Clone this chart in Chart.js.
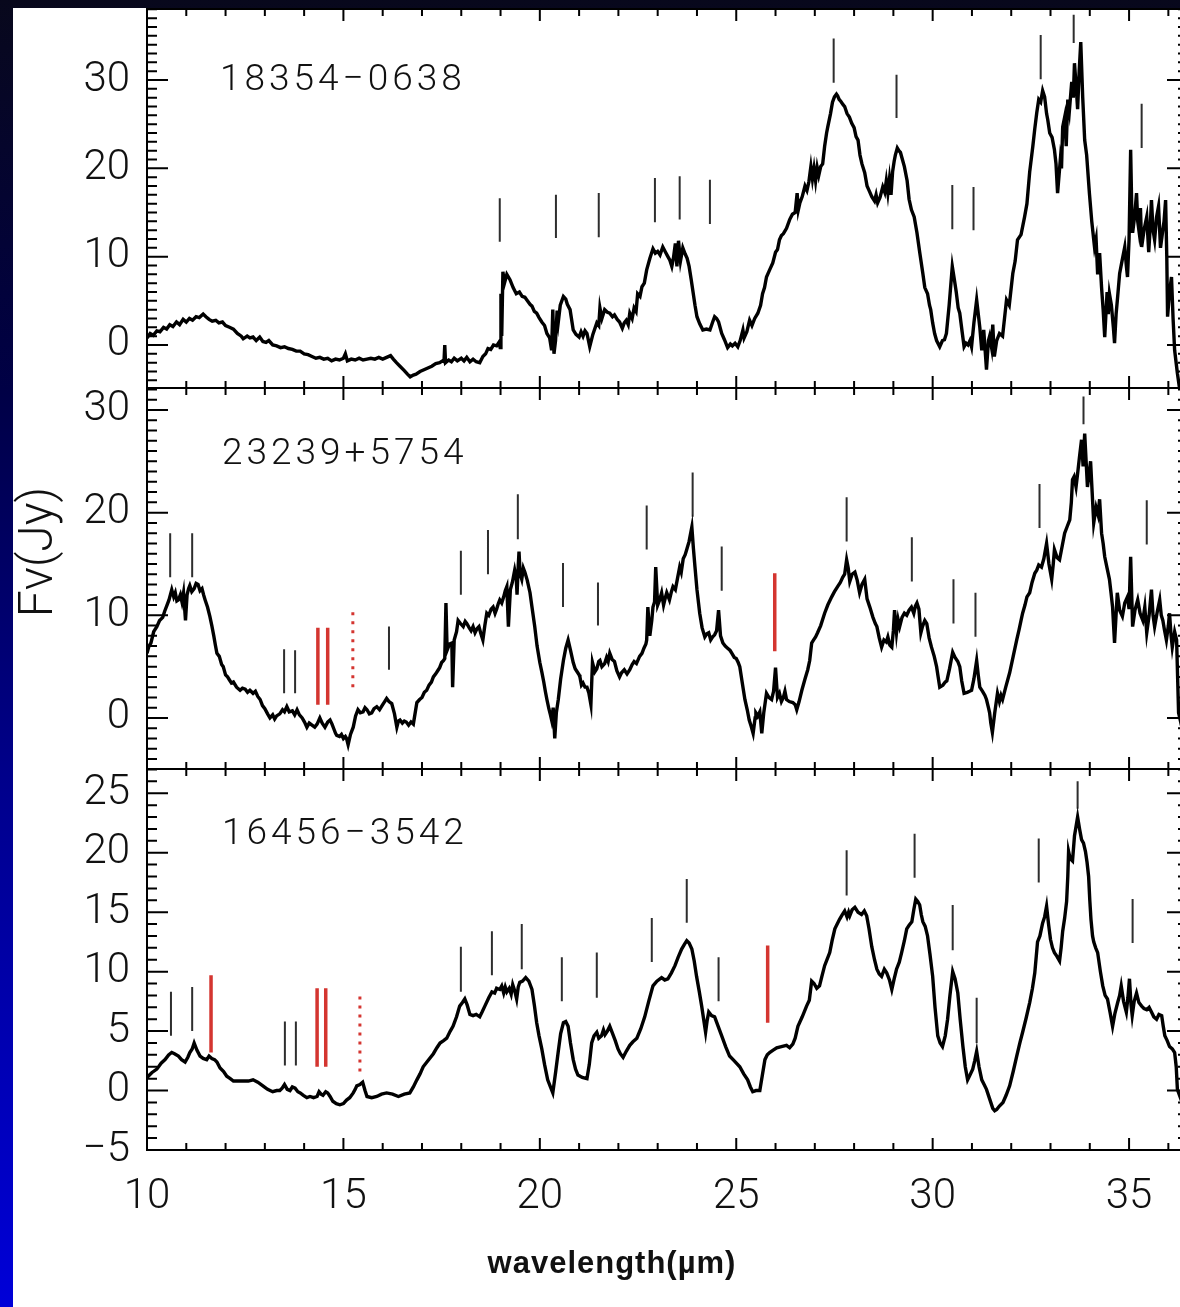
<!DOCTYPE html>
<html><head><meta charset="utf-8">
<script src="https://cdn.jsdelivr.net/npm/chart.js@4/dist/chart.umd.min.js"></script>
<style>
html,body{margin:0;padding:0;width:1180px;height:1307px;overflow:hidden;}
body{position:relative;background:linear-gradient(to bottom,#08081c 0%,#000046 30%,#00008c 60%,#0000d8 100%);}
#paper{position:absolute;left:13px;top:8px;right:0;bottom:0;background:#fff;}
canvas{position:absolute;left:0;}
</style></head><body>
<div id="paper"></div>
<canvas id="c1" width="1200" height="400" style="top:0px"></canvas>
<canvas id="c2" width="1200" height="400" style="top:380px"></canvas>
<canvas id="c3" width="1200" height="547" style="top:760px"></canvas>
<script>
// ---------------- DATA ----------------
const panelNames = ["18354\u22120638", "23239+5754", "16456\u22123542"];
const xTicks = [10, 15, 20, 25, 30, 35];
const yTicks1 = [0, 10, 20, 30];
const yTicks2 = [0, 10, 20, 30];
const yTicks3 = [-5, 0, 5, 10, 15, 20, 25];
const xTitle = "wavelength(\u00b5m)";
const yTitle = "F\u03bd(Jy)";

// Spectrum 1 : 18354-0638  [wavelength (um), flux (Jy)]
const spec1 = [[10.00,0.8],[10.08,1.3],[10.16,1.1],[10.25,1.6],[10.33,1.5],[10.42,2.0],[10.50,1.8],[10.58,2.3],[10.66,2.1],[10.75,2.6],[10.83,2.3],[10.92,2.9],[11.00,2.6],[11.08,3.0],[11.16,2.8],[11.25,3.2],[11.33,3.1],[11.43,3.5],[11.50,3.2],[11.58,2.9],[11.66,2.7],[11.75,2.8],[11.83,2.5],[11.92,2.6],[12.00,2.2],[12.10,2.0],[12.20,1.8],[12.30,1.3],[12.40,1.0],[12.45,0.7],[12.55,1.0],[12.62,0.8],[12.70,0.9],[12.78,0.5],[12.87,0.9],[12.95,0.4],[13.03,0.3],[13.10,0.5],[13.20,0.0],[13.30,-0.1],[13.40,-0.3],[13.50,-0.2],[13.60,-0.4],[13.70,-0.5],[13.80,-0.7],[13.90,-0.7],[14.00,-1.0],[14.10,-1.1],[14.20,-1.3],[14.30,-1.5],[14.40,-1.4],[14.50,-1.6],[14.60,-1.5],[14.70,-1.8],[14.80,-1.6],[14.90,-1.7],[15.00,-1.5],[15.05,-1.0],[15.10,-1.8],[15.20,-1.6],[15.30,-1.7],[15.40,-1.5],[15.50,-1.7],[15.60,-1.6],[15.70,-1.5],[15.80,-1.6],[15.90,-1.4],[16.00,-1.6],[16.10,-1.4],[16.20,-1.2],[16.27,-1.6],[16.35,-2.0],[16.44,-2.4],[16.55,-2.9],[16.63,-3.3],[16.70,-3.6],[16.78,-3.4],[16.85,-3.3],[16.95,-3.0],[17.05,-2.8],[17.15,-2.6],[17.25,-2.4],[17.35,-2.1],[17.45,-2.0],[17.52,-1.8],[17.56,-1.9],[17.58,0.0],[17.60,-2.0],[17.68,-1.7],[17.75,-1.9],[17.82,-1.5],[17.90,-1.8],[18.00,-1.5],[18.07,-1.8],[18.14,-1.4],[18.22,-1.9],[18.30,-1.6],[18.38,-1.9],[18.47,-2.0],[18.55,-1.3],[18.62,-1.0],[18.68,-0.4],[18.75,-0.5],[18.82,0.0],[18.90,-0.1],[18.96,0.3],[18.99,-0.3],[19.01,5.8],[19.03,1.0],[19.06,8.3],[19.10,7.0],[19.16,8.0],[19.24,7.4],[19.32,6.5],[19.40,5.8],[19.48,6.0],[19.55,5.5],[19.62,5.4],[19.67,5.1],[19.75,4.6],[19.80,4.4],[19.86,3.8],[19.92,3.6],[19.98,3.1],[20.05,2.6],[20.12,2.2],[20.18,1.3],[20.25,0.8],[20.30,-0.6],[20.33,4.0],[20.36,-1.0],[20.40,0.5],[20.44,3.9],[20.47,2.6],[20.52,4.5],[20.60,5.5],[20.66,5.2],[20.70,4.6],[20.77,4.0],[20.85,1.7],[20.92,1.2],[21.00,0.9],[21.05,1.5],[21.10,1.0],[21.15,1.6],[21.20,1.3],[21.27,-0.2],[21.35,1.2],[21.45,2.5],[21.50,2.2],[21.53,4.2],[21.58,3.0],[21.65,4.0],[21.72,3.7],[21.78,3.6],[21.85,3.2],[21.90,3.4],[21.97,2.9],[22.03,2.6],[22.10,1.9],[22.15,2.5],[22.20,2.8],[22.25,2.3],[22.29,3.6],[22.35,3.0],[22.40,4.2],[22.45,3.8],[22.49,5.8],[22.55,5.5],[22.60,6.6],[22.66,7.0],[22.72,8.5],[22.80,9.8],[22.88,10.9],[22.94,10.4],[23.00,10.6],[23.06,10.2],[23.13,11.1],[23.20,10.5],[23.26,10.0],[23.31,9.6],[23.36,8.9],[23.40,9.8],[23.45,11.5],[23.49,8.9],[23.53,11.8],[23.58,9.5],[23.64,11.0],[23.70,10.3],[23.75,9.8],[23.80,8.9],[23.85,7.5],[23.90,6.0],[23.95,4.5],[24.00,3.2],[24.07,2.4],[24.15,1.7],[24.24,1.8],[24.33,1.7],[24.40,2.6],[24.45,3.2],[24.50,3.0],[24.55,2.6],[24.63,1.3],[24.70,0.6],[24.78,-0.3],[24.85,0.1],[24.90,-0.1],[24.97,0.2],[25.04,-0.2],[25.10,0.5],[25.17,1.7],[25.20,0.8],[25.27,1.5],[25.34,2.8],[25.40,2.2],[25.47,3.0],[25.55,3.6],[25.62,4.5],[25.67,5.8],[25.72,6.5],[25.77,7.7],[25.85,8.5],[25.93,9.3],[26.00,10.5],[26.05,10.8],[26.10,11.9],[26.15,12.4],[26.20,12.6],[26.28,13.2],[26.36,14.2],[26.43,14.8],[26.50,15.0],[26.55,17.2],[26.58,15.3],[26.62,16.1],[26.68,16.8],[26.75,18.0],[26.80,17.5],[26.85,18.5],[26.90,20.2],[26.94,18.8],[26.98,20.0],[27.02,18.6],[27.06,20.1],[27.10,19.2],[27.15,20.2],[27.20,20.5],[27.25,22.5],[27.30,24.0],[27.33,24.7],[27.40,26.2],[27.45,27.5],[27.50,28.1],[27.55,28.4],[27.58,28.2],[27.62,27.8],[27.66,27.6],[27.72,27.2],[27.76,27.0],[27.82,26.2],[27.88,25.8],[27.94,25.1],[28.00,24.6],[28.05,23.6],[28.10,23.2],[28.15,21.5],[28.20,20.5],[28.27,19.5],[28.33,18.0],[28.38,17.5],[28.45,16.8],[28.52,16.3],[28.56,17.0],[28.60,16.1],[28.66,16.7],[28.73,17.9],[28.78,17.3],[28.82,18.6],[28.86,17.2],[28.90,18.8],[28.94,17.0],[28.98,19.6],[29.02,20.8],[29.05,21.5],[29.10,22.3],[29.14,22.0],[29.18,21.8],[29.23,21.0],[29.28,20.2],[29.35,18.6],[29.40,16.5],[29.46,15.3],[29.53,14.5],[29.60,12.7],[29.67,10.5],[29.75,8.1],[29.80,6.5],[29.87,5.8],[29.92,4.5],[29.95,4.0],[30.00,2.5],[30.05,1.3],[30.10,0.5],[30.18,-0.2],[30.25,0.5],[30.30,0.6],[30.35,1.3],[30.42,4.5],[30.50,8.9],[30.56,7.2],[30.60,6.0],[30.65,4.2],[30.69,3.6],[30.75,1.5],[30.80,-0.2],[30.85,0.2],[30.90,0.0],[30.95,0.5],[30.99,-0.2],[31.05,2.5],[31.12,5.1],[31.20,2.0],[31.25,-0.6],[31.30,1.7],[31.37,-2.8],[31.42,0.5],[31.45,1.0],[31.50,-0.3],[31.53,2.3],[31.57,-1.3],[31.63,0.5],[31.70,1.3],[31.78,1.0],[31.88,5.1],[31.95,4.5],[32.04,8.1],[32.10,9.5],[32.16,11.9],[32.25,12.5],[32.34,14.5],[32.40,16.0],[32.47,19.6],[32.55,22.5],[32.60,24.5],[32.65,26.3],[32.70,27.8],[32.75,27.5],[32.80,28.8],[32.85,28.1],[32.90,26.2],[32.93,25.5],[32.98,24.0],[33.04,23.5],[33.10,22.1],[33.14,20.5],[33.18,17.2],[33.25,21.0],[33.28,20.0],[33.31,24.7],[33.36,25.8],[33.40,22.5],[33.44,27.8],[33.48,26.5],[33.54,29.8],[33.58,28.0],[33.61,31.9],[33.65,29.5],[33.69,26.7],[33.73,31.0],[33.77,34.3],[33.82,28.0],[33.87,23.2],[33.92,21.5],[33.99,17.2],[34.05,14.0],[34.12,11.1],[34.16,12.0],[34.20,8.0],[34.25,10.4],[34.30,6.5],[34.34,4.0],[34.38,0.9],[34.44,6.0],[34.47,3.5],[34.50,5.8],[34.55,4.5],[34.60,2.0],[34.63,0.2],[34.67,3.5],[34.70,5.0],[34.76,8.1],[34.82,9.5],[34.89,11.1],[34.93,9.0],[34.96,7.7],[35.00,12.0],[35.04,22.1],[35.07,15.0],[35.09,12.7],[35.14,14.5],[35.19,17.2],[35.22,14.0],[35.25,13.0],[35.29,15.5],[35.32,11.1],[35.38,13.0],[35.45,14.5],[35.50,10.5],[35.54,13.5],[35.57,16.4],[35.61,13.0],[35.65,11.9],[35.70,14.5],[35.75,15.7],[35.80,11.0],[35.85,12.7],[35.89,14.0],[35.93,16.4],[35.96,10.0],[35.98,3.2],[36.03,6.0],[36.08,7.7],[36.12,3.0],[36.16,-0.6],[36.23,-3.2],[36.32,-6.0]];

// Spectrum 2 : 23239+5754
const spec2 = [[10.00,6.3],[10.05,7.0],[10.10,7.3],[10.17,8.4],[10.25,8.9],[10.32,9.5],[10.40,9.8],[10.45,10.4],[10.50,10.9],[10.56,11.5],[10.63,12.5],[10.68,11.8],[10.72,12.2],[10.76,11.4],[10.80,11.5],[10.85,12.0],[10.89,11.3],[10.93,12.2],[10.98,9.5],[11.02,12.0],[11.06,12.6],[11.09,12.9],[11.14,12.3],[11.20,12.6],[11.25,13.1],[11.30,13.0],[11.35,12.4],[11.40,12.6],[11.44,12.0],[11.48,11.5],[11.54,10.8],[11.60,9.9],[11.65,9.0],[11.70,8.0],[11.74,7.1],[11.78,6.3],[11.84,6.0],[11.90,5.2],[11.94,5.0],[12.00,4.2],[12.05,4.0],[12.10,3.7],[12.15,3.4],[12.20,3.5],[12.28,3.0],[12.37,2.7],[12.43,2.9],[12.50,2.8],[12.56,2.5],[12.62,2.7],[12.70,2.4],[12.76,2.6],[12.82,2.1],[12.88,1.8],[12.94,1.2],[13.00,0.9],[13.07,0.4],[13.13,0.0],[13.20,0.3],[13.25,-0.1],[13.30,0.2],[13.38,0.4],[13.45,0.8],[13.50,0.6],[13.56,1.1],[13.62,0.6],[13.70,0.7],[13.76,0.3],[13.82,0.8],[13.88,0.3],[13.95,0.0],[14.01,-0.4],[14.07,-0.9],[14.13,-0.5],[14.20,-0.7],[14.27,-0.9],[14.33,-0.6],[14.40,0.0],[14.46,-0.5],[14.53,-0.9],[14.60,-0.4],[14.66,-0.2],[14.71,-0.6],[14.75,-1.0],[14.80,-1.5],[14.83,-1.7],[14.90,-1.8],[14.95,-1.6],[15.00,-2.0],[15.05,-1.8],[15.08,-2.0],[15.12,-2.6],[15.18,-1.6],[15.25,-0.9],[15.31,0.2],[15.37,0.8],[15.43,0.5],[15.50,0.6],[15.55,1.0],[15.60,0.8],[15.66,0.4],[15.72,0.5],[15.78,0.9],[15.85,1.1],[15.92,0.8],[16.00,1.3],[16.05,1.6],[16.10,1.9],[16.16,1.6],[16.23,1.4],[16.30,0.4],[16.36,-0.9],[16.40,-0.3],[16.44,-0.2],[16.50,-0.5],[16.55,-0.3],[16.60,-0.4],[16.66,-0.7],[16.72,-0.4],[16.78,-0.6],[16.87,1.5],[16.94,1.8],[17.00,2.0],[17.06,2.5],[17.12,2.7],[17.18,3.2],[17.24,3.5],[17.29,4.0],[17.35,4.3],[17.40,4.6],[17.45,4.9],[17.50,5.4],[17.55,5.6],[17.58,5.8],[17.61,11.2],[17.64,6.6],[17.70,7.2],[17.76,7.3],[17.78,3.0],[17.82,7.6],[17.88,8.4],[17.92,9.5],[17.98,9.2],[18.05,8.9],[18.10,9.4],[18.14,9.2],[18.20,8.8],[18.25,8.5],[18.30,8.9],[18.35,8.3],[18.40,8.7],[18.45,8.9],[18.50,8.2],[18.55,7.6],[18.60,9.0],[18.65,10.2],[18.70,10.0],[18.76,10.6],[18.81,10.8],[18.86,10.2],[18.90,10.6],[18.94,11.1],[18.98,11.5],[19.03,11.2],[19.08,11.8],[19.12,12.4],[19.16,12.8],[19.20,8.9],[19.25,12.5],[19.30,13.2],[19.36,14.4],[19.40,13.6],[19.42,12.0],[19.45,14.8],[19.47,16.2],[19.50,14.0],[19.54,13.5],[19.58,14.6],[19.62,14.2],[19.68,13.4],[19.75,12.2],[19.80,10.8],[19.87,8.9],[19.93,7.0],[20.00,5.4],[20.05,4.5],[20.10,3.5],[20.14,2.6],[20.18,1.8],[20.23,0.9],[20.27,0.3],[20.30,-0.2],[20.34,1.0],[20.38,-2.0],[20.42,0.5],[20.47,1.8],[20.53,3.8],[20.60,5.6],[20.66,6.8],[20.72,7.6],[20.78,6.6],[20.85,5.4],[20.90,4.8],[20.95,4.5],[21.00,4.2],[21.02,4.0],[21.06,3.2],[21.10,3.4],[21.15,3.0],[21.20,3.0],[21.25,2.4],[21.30,1.3],[21.34,5.4],[21.40,4.5],[21.45,4.8],[21.50,5.5],[21.53,5.6],[21.58,5.0],[21.65,5.3],[21.70,5.9],[21.74,5.5],[21.78,6.3],[21.84,5.7],[21.90,5.5],[21.96,4.6],[22.03,4.0],[22.08,4.4],[22.15,4.7],[22.22,4.3],[22.29,4.7],[22.35,5.2],[22.40,5.5],[22.46,5.3],[22.54,6.0],[22.60,6.3],[22.65,6.8],[22.70,7.2],[22.72,7.6],[22.75,10.8],[22.80,8.0],[22.85,9.5],[22.88,10.8],[22.92,11.3],[22.95,14.7],[23.00,11.0],[23.05,11.5],[23.10,12.2],[23.15,11.0],[23.20,11.8],[23.23,12.2],[23.30,11.5],[23.35,12.3],[23.39,12.8],[23.45,12.5],[23.50,13.5],[23.56,14.7],[23.60,14.2],[23.65,15.5],[23.70,15.9],[23.74,16.4],[23.80,17.2],[23.87,18.6],[23.91,16.5],[23.95,14.7],[24.00,12.5],[24.07,10.2],[24.13,8.8],[24.20,7.9],[24.25,8.2],[24.30,8.3],[24.35,7.6],[24.40,7.9],[24.45,8.1],[24.50,8.5],[24.55,10.5],[24.60,8.0],[24.66,7.3],[24.72,7.0],[24.78,6.8],[24.84,6.6],[24.89,6.3],[24.95,5.9],[25.00,5.8],[25.05,5.4],[25.09,5.0],[25.15,3.5],[25.22,1.8],[25.28,0.8],[25.33,-0.2],[25.38,-0.8],[25.43,-1.5],[25.48,0.0],[25.50,0.5],[25.55,0.2],[25.60,0.6],[25.65,-1.5],[25.70,0.5],[25.77,2.4],[25.83,2.0],[25.90,1.8],[25.95,2.6],[26.00,4.9],[26.05,2.0],[26.10,2.4],[26.15,1.6],[26.20,2.0],[26.24,2.6],[26.28,1.8],[26.35,1.6],[26.44,1.5],[26.50,1.3],[26.54,0.8],[26.60,1.6],[26.67,2.7],[26.75,3.8],[26.82,4.7],[26.87,5.6],[26.92,7.3],[26.97,7.6],[27.02,7.9],[27.07,8.3],[27.15,9.0],[27.25,10.2],[27.33,11.0],[27.43,11.8],[27.50,12.3],[27.58,12.8],[27.65,13.2],[27.71,13.7],[27.76,14.0],[27.81,15.4],[27.85,14.6],[27.89,13.3],[27.95,14.0],[28.02,14.2],[28.08,13.4],[28.14,12.2],[28.20,13.0],[28.27,13.5],[28.33,11.6],[28.40,10.8],[28.48,9.8],[28.54,9.2],[28.58,8.9],[28.64,7.8],[28.70,6.9],[28.76,7.6],[28.82,7.4],[28.86,7.9],[28.91,7.1],[28.96,6.9],[29.00,8.5],[29.03,10.5],[29.08,8.3],[29.12,9.6],[29.16,8.9],[29.22,9.8],[29.28,10.2],[29.34,10.0],[29.40,10.5],[29.46,10.8],[29.52,10.2],[29.56,10.9],[29.60,11.2],[29.65,10.6],[29.70,8.3],[29.74,8.9],[29.80,9.5],[29.85,9.2],[29.91,7.8],[29.97,6.9],[30.04,6.0],[30.10,5.0],[30.14,4.0],[30.18,3.0],[30.26,3.2],[30.32,3.5],[30.36,3.6],[30.43,4.8],[30.51,6.4],[30.57,5.9],[30.64,5.5],[30.69,5.0],[30.74,3.6],[30.80,2.4],[30.88,2.5],[30.94,2.6],[30.99,2.7],[31.05,3.8],[31.12,5.6],[31.16,4.2],[31.20,3.0],[31.27,2.6],[31.33,2.2],[31.37,1.8],[31.42,1.0],[31.45,0.5],[31.48,-0.5],[31.52,-1.4],[31.58,0.5],[31.65,2.4],[31.70,1.6],[31.74,2.2],[31.78,1.8],[31.86,3.0],[31.96,4.4],[32.05,6.0],[32.14,7.6],[32.20,8.6],[32.25,9.5],[32.29,10.2],[32.35,11.0],[32.40,11.8],[32.47,12.2],[32.53,13.2],[32.60,14.1],[32.65,14.4],[32.70,14.9],[32.77,14.7],[32.83,15.5],[32.90,17.0],[32.96,15.0],[33.03,13.5],[33.07,15.0],[33.10,16.4],[33.17,15.6],[33.23,15.4],[33.30,16.8],[33.36,18.0],[33.42,18.6],[33.49,19.3],[33.53,21.0],[33.56,23.2],[33.60,23.5],[33.65,22.5],[33.69,23.8],[33.74,25.5],[33.79,27.1],[33.83,24.5],[33.87,27.7],[33.94,22.5],[34.02,25.0],[34.06,22.0],[34.10,19.0],[34.16,20.5],[34.21,19.8],[34.25,21.3],[34.30,18.0],[34.34,17.0],[34.38,15.7],[34.44,14.6],[34.50,13.5],[34.54,12.2],[34.58,10.8],[34.63,7.3],[34.70,12.2],[34.76,10.5],[34.83,9.9],[34.89,11.2],[34.96,11.8],[35.00,10.6],[35.04,15.7],[35.09,8.9],[35.15,10.5],[35.22,11.5],[35.28,10.2],[35.35,9.5],[35.40,10.8],[35.45,8.3],[35.51,10.0],[35.57,12.5],[35.61,10.0],[35.65,8.9],[35.72,10.4],[35.78,11.5],[35.82,10.0],[35.86,9.5],[35.90,8.6],[35.95,7.6],[36.00,9.0],[36.03,10.2],[36.07,8.0],[36.10,6.9],[36.16,8.4],[36.21,7.6],[36.26,0.5],[36.35,-1.0]];

// Spectrum 3 : 16456-3542
const spec3 = [[10.00,1.1],[10.12,1.5],[10.25,1.8],[10.36,2.3],[10.46,2.6],[10.55,3.0],[10.63,3.2],[10.70,3.1],[10.80,2.9],[10.88,2.6],[10.97,2.4],[11.04,2.8],[11.09,3.2],[11.15,3.5],[11.20,4.0],[11.27,3.4],[11.35,2.9],[11.43,2.7],[11.52,2.6],[11.58,2.9],[11.65,2.7],[11.72,2.6],[11.78,2.4],[11.86,1.9],[11.95,1.6],[12.03,1.2],[12.12,1.0],[12.20,0.8],[12.32,0.8],[12.45,0.8],[12.58,0.8],[12.70,0.9],[12.82,0.7],[12.95,0.4],[13.07,0.1],[13.20,-0.1],[13.30,0.0],[13.38,0.0],[13.44,0.2],[13.50,0.5],[13.57,0.1],[13.64,0.0],[13.70,0.3],[13.77,0.2],[13.84,-0.1],[13.90,-0.2],[13.98,-0.4],[14.07,-0.6],[14.15,-0.5],[14.24,-0.6],[14.33,-0.5],[14.38,-0.1],[14.43,-0.3],[14.48,-0.4],[14.55,-0.1],[14.60,-0.2],[14.66,-0.5],[14.73,-0.9],[14.82,-1.1],[14.91,-1.2],[15.00,-1.1],[15.08,-0.8],[15.16,-0.6],[15.25,-0.2],[15.30,0.1],[15.34,0.4],[15.42,0.5],[15.49,0.7],[15.55,0.0],[15.60,-0.5],[15.72,-0.6],[15.85,-0.5],[15.97,-0.3],[16.10,-0.2],[16.25,-0.3],[16.40,-0.5],[16.55,-0.3],[16.69,-0.2],[16.78,0.3],[16.87,0.9],[16.95,1.4],[17.03,2.0],[17.15,2.5],[17.29,3.1],[17.38,3.6],[17.46,4.0],[17.55,4.2],[17.63,4.4],[17.72,5.0],[17.79,5.4],[17.88,6.2],[17.96,7.1],[18.03,7.4],[18.09,7.7],[18.15,7.2],[18.22,6.4],[18.30,6.3],[18.38,6.4],[18.47,6.2],[18.53,6.6],[18.60,7.1],[18.70,7.8],[18.78,8.3],[18.85,8.2],[18.90,8.6],[18.98,8.5],[19.03,8.8],[19.08,8.2],[19.12,8.7],[19.16,8.3],[19.22,8.6],[19.27,8.1],[19.31,8.9],[19.36,8.4],[19.41,7.7],[19.45,8.7],[19.49,9.1],[19.56,9.2],[19.64,9.5],[19.72,9.2],[19.80,8.5],[19.86,7.2],[19.92,5.7],[19.98,4.6],[20.05,3.5],[20.12,2.2],[20.20,0.9],[20.27,0.3],[20.33,-0.2],[20.40,1.5],[20.47,3.3],[20.53,4.8],[20.60,5.7],[20.66,5.8],[20.72,5.4],[20.78,4.0],[20.85,2.6],[20.91,1.8],[20.97,1.3],[21.08,1.1],[21.20,1.0],[21.26,2.2],[21.32,4.0],[21.38,4.6],[21.45,4.9],[21.50,4.4],[21.57,4.6],[21.62,5.1],[21.66,4.7],[21.72,5.0],[21.78,5.4],[21.85,4.8],[21.92,4.2],[21.99,3.5],[22.05,3.1],[22.12,2.8],[22.20,3.3],[22.29,3.8],[22.37,4.1],[22.47,4.4],[22.57,5.2],[22.67,6.2],[22.78,7.6],[22.88,8.8],[22.98,9.2],[23.10,9.5],[23.18,9.3],[23.26,9.4],[23.35,9.9],[23.44,10.5],[23.52,11.2],[23.61,11.9],[23.68,12.3],[23.74,12.6],[23.80,12.4],[23.87,11.9],[23.93,10.9],[23.99,9.6],[24.06,8.3],[24.12,7.1],[24.17,6.0],[24.22,4.9],[24.26,5.9],[24.30,6.6],[24.37,6.3],[24.45,6.2],[24.54,5.4],[24.63,4.6],[24.73,3.7],[24.83,2.9],[24.95,2.5],[25.09,2.0],[25.19,1.4],[25.29,0.9],[25.36,0.3],[25.42,-0.1],[25.50,0.0],[25.60,0.0],[25.66,1.2],[25.73,2.6],[25.79,3.0],[25.85,3.2],[25.94,3.4],[26.03,3.6],[26.15,3.7],[26.28,3.8],[26.36,3.6],[26.44,3.9],[26.50,4.4],[26.57,5.4],[26.68,6.2],[26.79,7.1],[26.86,7.6],[26.92,9.2],[26.98,9.0],[27.05,8.6],[27.12,8.8],[27.18,9.6],[27.25,10.5],[27.31,11.0],[27.38,11.6],[27.44,12.6],[27.51,13.6],[27.57,14.0],[27.63,14.4],[27.70,14.8],[27.76,15.1],[27.82,14.6],[27.86,15.0],[27.89,14.7],[27.95,15.2],[28.02,15.4],[28.10,15.0],[28.19,14.8],[28.26,15.1],[28.32,14.7],[28.38,13.6],[28.45,12.1],[28.52,11.0],[28.58,10.2],[28.64,9.8],[28.70,9.6],[28.77,10.2],[28.83,9.9],[28.90,9.3],[28.96,8.5],[29.02,9.4],[29.08,10.2],[29.15,10.8],[29.21,11.6],[29.28,12.6],[29.34,13.6],[29.40,13.9],[29.47,14.2],[29.52,15.2],[29.57,16.1],[29.62,15.9],[29.67,15.6],[29.71,14.8],[29.75,14.2],[29.81,13.8],[29.87,13.0],[29.93,11.5],[30.00,9.6],[30.06,7.0],[30.13,4.6],[30.19,4.0],[30.25,3.7],[30.32,4.6],[30.38,6.0],[30.44,8.0],[30.51,10.0],[30.57,9.4],[30.64,8.2],[30.70,6.0],[30.77,3.7],[30.83,2.0],[30.89,0.9],[30.95,1.3],[31.02,1.8],[31.07,2.5],[31.12,3.3],[31.18,2.0],[31.25,0.9],[31.31,0.5],[31.37,0.1],[31.45,-0.7],[31.53,-1.5],[31.58,-1.7],[31.63,-1.6],[31.70,-1.3],[31.79,-1.0],[31.87,-0.4],[31.96,0.4],[32.05,1.6],[32.14,2.9],[32.22,4.0],[32.29,4.9],[32.38,6.1],[32.47,7.4],[32.54,8.6],[32.60,9.9],[32.67,12.5],[32.73,13.0],[32.80,14.1],[32.85,14.6],[32.90,15.5],[32.95,14.0],[33.00,12.7],[33.05,12.0],[33.10,11.6],[33.16,11.3],[33.23,10.9],[33.27,12.0],[33.31,13.4],[33.36,14.5],[33.41,15.9],[33.44,18.0],[33.46,20.1],[33.50,19.5],[33.56,19.3],[33.61,21.4],[33.65,22.2],[33.69,23.0],[33.74,22.0],[33.79,21.1],[33.84,20.8],[33.89,20.1],[33.93,19.2],[33.97,18.0],[34.00,16.0],[34.03,14.4],[34.07,13.0],[34.10,12.5],[34.15,12.0],[34.20,11.6],[34.27,10.0],[34.33,8.8],[34.39,8.0],[34.45,7.7],[34.52,6.5],[34.58,5.4],[34.64,6.5],[34.71,7.4],[34.76,8.0],[34.80,8.8],[34.86,7.5],[34.93,6.6],[34.97,7.8],[35.01,9.4],[35.05,7.2],[35.08,6.3],[35.13,7.5],[35.19,8.2],[35.25,7.4],[35.32,7.1],[35.38,6.9],[35.45,6.8],[35.51,7.0],[35.57,6.6],[35.63,6.2],[35.70,6.0],[35.76,6.4],[35.83,6.3],[35.87,5.4],[35.91,4.6],[35.97,4.2],[36.03,3.7],[36.10,3.5],[36.16,3.2],[36.20,2.0],[36.23,0.1],[36.35,-1.0]];

// Feature markers (wavelength, lower and upper flux of each mark)
const mk1Wl = [18.98,20.41,21.50,22.93,23.56,24.33,27.48,29.08,30.50,31.04,32.75,33.59,35.32];
const mk1Lo = [11.7,12.1,12.2,13.9,14.2,13.7,29.7,25.7,13.1,13.0,30.1,34.2,22.3];
const mk1Hi = [16.6,17.0,17.2,18.9,19.1,18.7,34.7,30.6,18.1,17.9,35.1,37.4,27.3];

const mk2Wl = [10.59,11.15,13.49,13.77,16.16,17.99,18.68,19.44,20.59,21.48,22.72,23.89,24.63,27.81,29.47,30.53,31.09,32.72,33.84,35.45];
const mk2Lo = [13.7,13.7,2.4,2.4,4.7,12.0,14.0,17.4,10.8,9.0,16.4,19.6,12.4,17.2,13.3,9.2,7.9,18.5,28.6,16.9];
const mk2Hi = [18.0,18.0,6.7,6.6,8.9,16.3,18.3,21.8,15.1,13.2,20.7,23.9,16.7,21.5,17.6,13.5,12.2,22.8,31.3,21.2];
const red2Wl = [14.35,14.60,25.98];
const red2Lo = [1.3,1.3,6.5];
const red2Hi = [8.8,8.8,14.1];
const dot2Wl = [15.24];
const dot2Lo = [3.0];
const dot2Hi = [10.5];

const mk3Wl = [10.61,11.15,13.51,13.79,17.99,18.78,19.54,20.56,21.45,22.85,23.74,24.55,27.81,29.54,30.51,31.12,32.70,33.69,35.09];
const mk3Lo = [4.6,5.0,2.1,2.1,8.3,9.7,10.2,7.5,7.8,10.8,14.1,7.5,16.4,17.9,11.8,4.0,17.5,23.7,12.4];
const mk3Hi = [8.3,8.7,5.8,5.8,12.1,13.4,14.0,11.2,11.6,14.5,17.8,11.2,20.2,21.6,15.6,7.8,21.2,26.0,16.1];
const red3Wl = [11.63,14.33,14.55,25.80];
const red3Lo = [3.2,2.0,2.0,5.7];
const red3Hi = [9.7,8.6,8.6,12.2];
const dot3Wl = [15.42];
const dot3Lo = [1.6];
const dot3Hi = [8.3];

// ---------------- RENDERING ----------------
const XMIN = 10, XMAX = 36.5;
const LIGHT = "'Roboto','Lato','Open Sans','DejaVu Sans',sans-serif";
const minus = v => String(v).replace('-', '\u2212');

function specPts(spec){ return spec.map(p => ({x:p[0], y:p[1]})); }
function segPts(wl, lo, hi){ const p=[]; wl.forEach((w,i)=>{ p.push({x:w,y:lo[i]},{x:w,y:hi[i]},{x:w,y:null}); }); return p; }
function noPad(s){ s.paddingTop = 0; s.paddingBottom = 0; s.paddingLeft = 0; s.paddingRight = 0; }

const framePlugin = {
  id: 'frame',
  afterDatasetsDraw(chart, args, o){
    const {ctx, chartArea:a, scales:{x, y}} = chart;
    ctx.save();
    ctx.strokeStyle = '#000';
    ctx.lineWidth = 2;
    ctx.strokeRect(a.left, a.top, a.right - a.left, a.bottom - a.top);
    ctx.beginPath();
    for (let v = Math.ceil(x.min); v <= x.max; v++){
      const px = x.getPixelForValue(v);
      const len = v % 5 === 0 ? 12 : 7;
      ctx.moveTo(px, a.top); ctx.lineTo(px, a.top + len);
      ctx.moveTo(px, a.bottom); ctx.lineTo(px, a.bottom - len);
    }
    for (let v = Math.ceil(y.min); v <= y.max; v++){
      const py = y.getPixelForValue(v);
      const len = v % o.major === 0 ? 21 : 10;
      ctx.moveTo(a.left, py); ctx.lineTo(a.left + len, py);
      ctx.moveTo(a.right, py); ctx.lineTo(a.right - len, py);
    }
    ctx.stroke();
    // panel name
    ctx.fillStyle = '#111';
    ctx.font = '300 37px ' + LIGHT;
    ctx.textBaseline = 'alphabetic';
    ctx.textAlign = 'left';
    if ('letterSpacing' in ctx) ctx.letterSpacing = '4px';
    ctx.fillText(o.name, a.left + o.nx, a.top + o.ny);
    if ('letterSpacing' in ctx) ctx.letterSpacing = '0px';
    if (o.yTitle){
      ctx.save();
      ctx.translate(o.yTitle.x, o.yTitle.y);
      ctx.rotate(-Math.PI/2);
      ctx.textAlign = 'center';
      ctx.font = '300 48px ' + LIGHT;
      ctx.fillText(o.yTitle.text, 0, 0);
      ctx.restore();
    }
    if (o.xTitle){
      ctx.textAlign = 'center';
      ctx.font = 'bold 31px "Liberation Sans", Arial, sans-serif';
      if ('letterSpacing' in ctx) ctx.letterSpacing = '1px';
      ctx.fillText(o.xTitle.text, o.xTitle.x, o.xTitle.y);
    }
    ctx.restore();
  }
};

function makePanel(id, cfg){
  const datasets = [
    {data: specPts(cfg.spec), borderColor:'#000', borderWidth:3.4, pointRadius:0, tension:0, borderJoinStyle:'miter'},
    {data: segPts(cfg.mk[0], cfg.mk[1], cfg.mk[2]), borderColor:'#2e2e2e', borderWidth:2, pointRadius:0, spanGaps:false}
  ];
  if (cfg.red) datasets.push({data: segPts(cfg.red[0], cfg.red[1], cfg.red[2]), borderColor:'#d43530', borderWidth:3.5, pointRadius:0, spanGaps:false});
  if (cfg.dot) datasets.push({data: segPts(cfg.dot[0], cfg.dot[1], cfg.dot[2]), borderColor:'#d43530', borderWidth:3, borderDash:[3,6], pointRadius:0, spanGaps:false});
  return new Chart(document.getElementById(id), {
    type: 'line',
    data: {datasets},
    options: {
      responsive: false, animation: false, events: [],
      layout: {autoPadding: false, padding: {top: cfg.padTop, bottom: cfg.padBottom, left: 0, right: 12}},
      plugins: {legend:{display:false}, tooltip:{enabled:false}, frame: cfg.frame},
      scales: {
        x: {
          type: 'linear', min: XMIN, max: XMAX, display: cfg.showX,
          grid: {display:false, drawTicks:false}, border: {display:false},
          afterBuildTicks: s => { s.ticks = xTicks.map(v => ({value:v})); },
          afterFit: s => { noPad(s); if (cfg.showX) s.height = cfg.xHeight; },
          ticks: {color:'#111', font:{family:LIGHT, size:42, weight:'300'}, padding:22, maxRotation:0, autoSkip:false}
        },
        y: {
          type: 'linear', min: cfg.ymin, max: cfg.ymax,
          grid: {display:false, drawTicks:false}, border: {display:false},
          afterBuildTicks: s => { s.ticks = cfg.yTicks.map(v => ({value:v})); },
          afterFit: s => { noPad(s); s.width = 147; },
          ticks: {color:'#111', font:{family:LIGHT, size:42, weight:'300'}, padding:17, callback: v => minus(v), autoSkip:false}
        }
      }
    },
    plugins: [framePlugin]
  });
}

const charts = [];
charts.push(makePanel('c1', {spec:spec1, mk:[mk1Wl,mk1Lo,mk1Hi], ymin:-4.87, ymax:38.04, yTicks:yTicks1,
  padTop:9, padBottom:12, showX:false,
  frame:{major:10, name:panelNames[0], nx:73, ny:81}}));
charts.push(makePanel('c2', {spec:spec2, mk:[mk2Wl,mk2Lo,mk2Hi], red:[red2Wl,red2Lo,red2Hi], dot:[dot2Wl,dot2Lo,dot2Hi],
  ymin:-4.97, ymax:32.14, yTicks:yTicks2, padTop:8, padBottom:11, showX:false,
  frame:{major:10, name:panelNames[1], nx:75, ny:76, yTitle:{text:yTitle, x:52, y:172}}}));
charts.push(makePanel('c3', {spec:spec3, mk:[mk3Wl,mk3Lo,mk3Hi], red:[red3Wl,red3Lo,red3Hi], dot:[dot3Wl,dot3Lo,dot3Hi],
  ymin:-5, ymax:27.04, yTicks:yTicks3, padTop:9, padBottom:0, showX:true, xHeight:157,
  frame:{major:5, name:panelNames[2], nx:75, ny:75, xTitle:{text:xTitle, x:612, y:513}}}));
</script>
</body></html>
